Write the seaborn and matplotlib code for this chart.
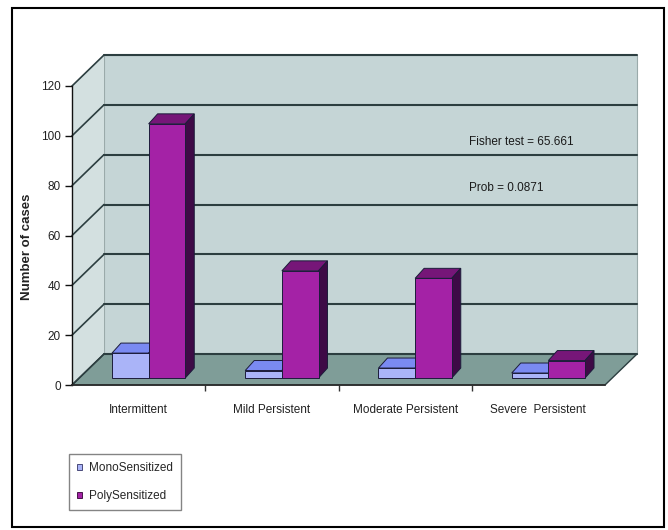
import numpy as np
import pandas as pd
import matplotlib
matplotlib.use("Agg")
import matplotlib.pyplot as plt
import seaborn as sns
from matplotlib.patches import Polygon, Rectangle, Patch
from matplotlib.lines import Line2D
from matplotlib.transforms import IdentityTransform, Affine2D

# ---------------- data ----------------
categories = ["Intermittent", "Mild Persistent", "Moderate Persistent", "Severe  Persistent"]
groups = ["MonoSensitized", "PolySensitized"]
mono_cases = [10, 3, 4, 2]
poly_cases = [102, 43, 40, 7]
y_ticks = [0, 20, 40, 60, 80, 100, 120]
notes = ["Fisher test = 65.661", "Prob = 0.0871"]
y_title = "Number of cases"

df = pd.DataFrame({
    "severity": categories * 2,
    "group": [groups[0]] * len(categories) + [groups[1]] * len(categories),
    "cases": mono_cases + poly_cases,
})

# ---------------- style ----------------
sns.set_theme(style="white")
plt.rcParams["font.family"] = ["Liberation Sans", "DejaVu Sans"]

W, H = 668, 530
fig = plt.figure(figsize=(W / 100, H / 100), dpi=100)
fig.patch.set_facecolor("white")

# front plane of the 3-D box (pixels from top-left)
FX0, FX1, FYT, FYB = 72, 605, 86, 385
DX, DY = 32, 31          # depth of the box
BX, BY = 10, 7           # bar front-face depth offset
TX, TY = 9, 10           # bar thickness (depth)

ax = fig.add_axes([FX0 / W, 1 - FYB / H, (FX1 - FX0) / W, (FYB - FYT) / H])
ax.set_facecolor("none")

mono_front, poly_front = "#aab4f8", "#a422a6"
mono_top, poly_top = "#7a8af2", "#761678"
mono_side, poly_side = "#5560c0", "#3e0a46"
edge = "#1c1c3a"

sns.barplot(data=df, x="severity", y="cases", hue="group", order=categories,
            hue_order=groups, palette=[mono_front, poly_front], saturation=1,
            width=0.55, edgecolor=edge, linewidth=0.7, legend=False, ax=ax)

ax.set_xlim(-0.5, 3.5)
ax.set_ylim(0, 120)
ax.autoscale(False)

ident = IdentityTransform()

def dp(x, y):
    return ax.transData.transform((x, y))

# walls
x0d, y0d = dp(-0.5, 0)
x1d, y1d = dp(3.5, 120)
wall_col, side_col, floor_col = "#c5d5d6", "#d3e0e0", "#7f9d98"
grid_col = "#2c3e40"

ax.add_patch(Polygon([(x0d + DX, y0d + DY), (x1d + DX, y0d + DY), (x1d + DX, y1d + DY), (x0d + DX, y1d + DY)],
                     closed=True, transform=ident, clip_on=False, fc=wall_col, ec="#9aaaaa", lw=0.8, zorder=0.1))
ax.add_patch(Polygon([(x0d, y0d), (x0d + DX, y0d + DY), (x0d + DX, y1d + DY), (x0d, y1d)],
                     closed=True, transform=ident, clip_on=False, fc=side_col, ec="none", zorder=0.1))
ax.add_patch(Polygon([(x0d, y0d), (x1d, y0d), (x1d + DX, y0d + DY), (x0d + DX, y0d + DY)],
                     closed=True, transform=ident, clip_on=False, fc=floor_col, ec=grid_col, lw=1.0, zorder=0.2))

for v in y_ticks:
    _, yv = dp(-0.5, v)
    ax.add_line(Line2D([x0d + DX, x1d + DX], [yv + DY, yv + DY], transform=ident, clip_on=False,
                       color=grid_col, lw=1.5, zorder=0.3))
    ax.add_line(Line2D([x0d, x0d + DX], [yv, yv + DY], transform=ident, clip_on=False,
                       color=grid_col, lw=1.2, zorder=0.3))

# 3-D bars: shift front faces and add top / side faces
tops = [mono_top, poly_top]
sides = [mono_side, poly_side]
for gi, cont in enumerate(ax.containers):
    for p in cont.patches:
        p.set_transform(ax.transData + Affine2D().translate(BX, BY))
        p.set_clip_on(False)
        p.set_zorder(3)
        xa, ya = dp(p.get_x(), 0)
        xb, yb = dp(p.get_x() + p.get_width(), p.get_height())
        xa += BX; xb += BX; ya += BY; yb += BY
        ax.add_patch(Polygon([(xa, yb), (xb, yb), (xb + TX, yb + TY), (xa + TX, yb + TY)], closed=True,
                             transform=ident, clip_on=False, fc=tops[gi], ec=edge, lw=0.7, zorder=2.5))
        ax.add_patch(Polygon([(xb, ya), (xb + TX, ya + TY), (xb + TX, yb + TY), (xb, yb)], closed=True,
                             transform=ident, clip_on=False, fc=sides[gi], ec=edge, lw=0.7, zorder=2.5))

ax.set_xlim(-0.5, 3.5)
ax.set_ylim(0, 120)

# axes / ticks
for s in ["top", "right"]:
    ax.spines[s].set_visible(False)
ax.spines["left"].set_color("#111111")
ax.spines["left"].set_linewidth(1.0)
ax.spines["bottom"].set_color("#2a2a2a")
ax.spines["bottom"].set_linewidth(1.2)
ax.spines["left"].set_zorder(4)
ax.spines["bottom"].set_zorder(4)

ax.set_yticks(y_ticks)
ax.set_yticklabels([str(v) for v in y_ticks])
ax.tick_params(axis="y", direction="out", length=5, width=1, color="#111111", pad=3,
               labelsize=8.5, labelcolor="#222222", left=True)
ax.set_xticks(range(len(categories)))
ax.set_xticklabels(categories)
ax.tick_params(axis="x", which="major", length=0, pad=14, labelsize=8.5, labelcolor="#222222")
ax.set_xticks([0.5, 1.5, 2.5], minor=True)
ax.tick_params(axis="x", which="minor", direction="out", length=4, width=1, color="#333333", bottom=True)
ax.set_xlabel("")
ax.set_ylabel(y_title, fontsize=9.5, fontweight="bold", color="#222222")
ax.yaxis.set_label_coords((33 - FX0) / (FX1 - FX0), (FYB - 247) / (FYB - FYT))
ax.grid(False)

# annotations
fig.text(469 / W, 1 - 142 / H, notes[0], fontsize=8.5, color="#1a1a1a", va="center", ha="left")
fig.text(469 / W, 1 - 188 / H, notes[1], fontsize=8.5, color="#1a1a1a", va="center", ha="left")

# legend
handles = [Patch(facecolor=mono_front, edgecolor="#333366", lw=0.6),
           Patch(facecolor=poly_front, edgecolor="#330033", lw=0.6)]
leg = fig.legend(handles, groups, loc="upper left", bbox_to_anchor=(69 / W, 1 - 454 / H),
                 borderaxespad=0, frameon=True, fancybox=False, fontsize=8.5,
                 handlelength=0.4, handleheight=0.4, handletextpad=0.6, labelspacing=1.35,
                 borderpad=0.7)
leg.get_frame().set_edgecolor("#666666")
leg.get_frame().set_linewidth(1.0)

# outer border
fig.patches.append(Rectangle((12 / W, 3 / H), 652 / W, 519 / H, transform=fig.transFigure,
                             fill=False, ec="black", lw=1.5))

fig.savefig("out.png", dpi=100)
